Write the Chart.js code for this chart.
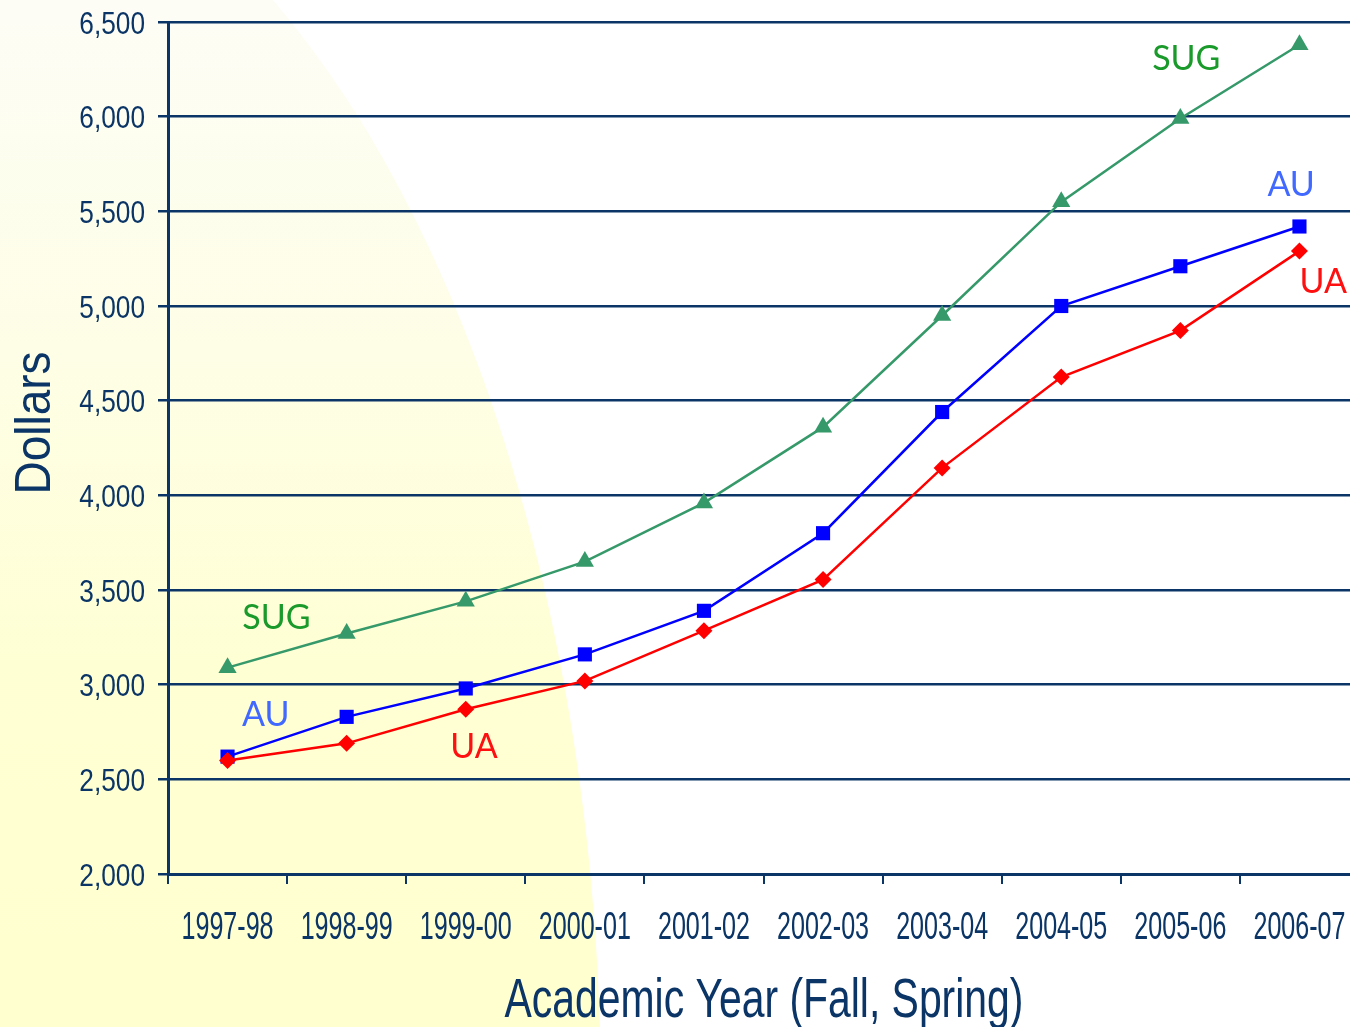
<!DOCTYPE html>
<html lang="en">
<head>
  <meta charset="UTF-8">
  <title>Tuition by academic year</title>
  <script src="https://cdn.jsdelivr.net/npm/chart.js"></script>
  <style>
    html, body { margin: 0; padding: 0; overflow: hidden; background: #fff; }
  </style>
</head>
<body>
<canvas class="chart" width="1359" height="1027"></canvas>

<script>
  const years = ['1997-98', '1998-99', '1999-00', '2000-01', '2001-02', '2002-03', '2003-04', '2004-05', '2005-06', '2006-07'];
  const sugValues = [3090, 3270, 3440, 3650, 3960, 4360, 4950, 5550, 5990, 6380];
  const auValues = [2620, 2830, 2980, 3160, 3390, 3800, 4440, 5000, 5210, 5420];
  const uaValues = [2600, 2690, 2870, 3020, 3285, 3555, 4145, 4625, 4870, 5290];
  const yTicks = [2000, 2500, 3000, 3500, 4000, 4500, 5000, 5500, 6000, 6500];

  // подписи серий: [текст, цвет, индекс категории, значение]
  const seriesLabels = [
    ['SUG', '#1a9a2a', 0.41, 3350],
    ['SUG', '#1a9a2a', 8.05, 6305],
    ['AU', '#4169ff', 0.32, 2840],
    ['AU', '#4169ff', 8.93, 5640],
    ['UA', '#ff1010', 2.07, 2670],
    ['UA', '#ff1010', 9.2, 5125]
  ];

  const navy = '#0b3566';
  const narrow = "'Liberation Sans', Arial, sans-serif";

  // текст, сжатый по горизонтали (узкий шрифт как в оригинале)
  function squeezed(ctx, text, x, y, sx, angle) {
    ctx.save();
    ctx.translate(x, y);
    if (angle) ctx.rotate(angle);
    ctx.scale(sx, 1);
    ctx.fillText(text, 0, 0);
    ctx.restore();
  }

  const backgroundPlugin = {
    id: 'bg',
    beforeDraw(chart) {
      const ctx = chart.ctx;
      ctx.save();
      ctx.fillStyle = '#ffffff';
      ctx.fillRect(0, 0, chart.width, chart.height);
      const grad = ctx.createLinearGradient(0, 0, 0, chart.height);
      grad.addColorStop(0, 'rgba(253,253,246,1)');
      grad.addColorStop(0.35, 'rgba(254,254,230,1)');
      grad.addColorStop(0.65, 'rgba(255,255,212,1)');
      grad.addColorStop(1, 'rgba(255,255,207,1)');
      ctx.fillStyle = grad;
      ctx.beginPath();
      ctx.ellipse(-100, 1100, 701, 1299, 0, 0, Math.PI * 2);
      ctx.fill();
      ctx.restore();
    }
  };

  const axisTextPlugin = {
    id: 'axisText',
    afterDraw(chart) {
      const ctx = chart.ctx;
      const x = chart.scales.x, y = chart.scales.y;
      ctx.save();
      ctx.fillStyle = navy;
      ctx.textBaseline = 'alphabetic';

      ctx.font = `32px ${narrow}`;
      ctx.textAlign = 'right';
      yTicks.forEach(v => {
        squeezed(ctx, v.toLocaleString('en-US'), x.left - 23, y.getPixelForValue(v) + 11.5, 0.82);
      });

      ctx.textAlign = 'center';
      ctx.font = `38px ${narrow}`;
      years.forEach((label, i) => {
        squeezed(ctx, label, x.getPixelForValue(i), x.top + 65, 0.66);
      });

      ctx.font = `56px ${narrow}`;
      squeezed(ctx, 'Academic Year (Fall, Spring)', 764, x.top + 143, 0.73);

      ctx.font = `50px ${narrow}`;
      squeezed(ctx, 'Dollars', 50, 423, 0.92, -Math.PI / 2);
      ctx.restore();
    }
  };

  const labelPlugin = {
    id: 'seriesLabels',
    afterDatasetsDraw(chart) {
      const ctx = chart.ctx;
      const x = chart.scales.x, y = chart.scales.y;
      ctx.save();
      ctx.font = "34px Lato, 'Open Sans', sans-serif";
      ctx.textAlign = 'center';
      ctx.textBaseline = 'middle';
      seriesLabels.forEach(([text, color, idx, val]) => {
        ctx.fillStyle = color;
        ctx.fillText(text, x.getPixelForValue(idx), y.getPixelForValue(val));
      });
      ctx.restore();
    }
  };

  function dataset(label, data, color, style, radius) {
    return {
      label: label,
      data: data,
      borderColor: color,
      backgroundColor: color,
      borderWidth: 2.5,
      pointStyle: style,
      pointRadius: radius,
      pointHoverRadius: radius,
      pointBorderWidth: 0,
      tension: 0
    };
  }

  new Chart(document.querySelector('.chart'), {
    type: 'line',
    data: {
      labels: years,
      datasets: [
        dataset('SUG', sugValues, '#36996a', 'triangle', 10.5),
        dataset('UA', uaValues, '#ff0000', 'rectRot', 8.5),
        dataset('AU', auValues, '#0000ff', 'rect', 10)
      ]
    },
    options: {
      responsive: false,
      animation: false,
      layout: { autoPadding: false, padding: { top: 22, right: 0, left: 0, bottom: 0 } },
      plugins: { legend: { display: false }, tooltip: { enabled: false } },
      scales: {
        x: {
          offset: true,
          afterFit(scale) { scale.height = 153; },
          grid: { display: true, drawOnChartArea: false, offset: true, color: navy, lineWidth: 2, tickLength: 10, tickWidth: 2 },
          border: { color: navy, width: 3 },
          ticks: { display: false },
          title: { display: false, text: 'Academic Year (Fall, Spring)' }
        },
        y: {
          min: 2000,
          max: 6500,
          afterFit(scale) { scale.width = 168; },
          afterBuildTicks(scale) { scale.ticks = yTicks.map(v => ({ value: v })); },
          grid: { color: navy, lineWidth: 2.5, tickLength: 10, tickWidth: 2.5 },
          border: { color: navy, width: 3 },
          ticks: { display: false },
          title: { display: false, text: 'Dollars' }
        }
      }
    },
    plugins: [backgroundPlugin, labelPlugin, axisTextPlugin]
  });
</script>
</body>
</html>
